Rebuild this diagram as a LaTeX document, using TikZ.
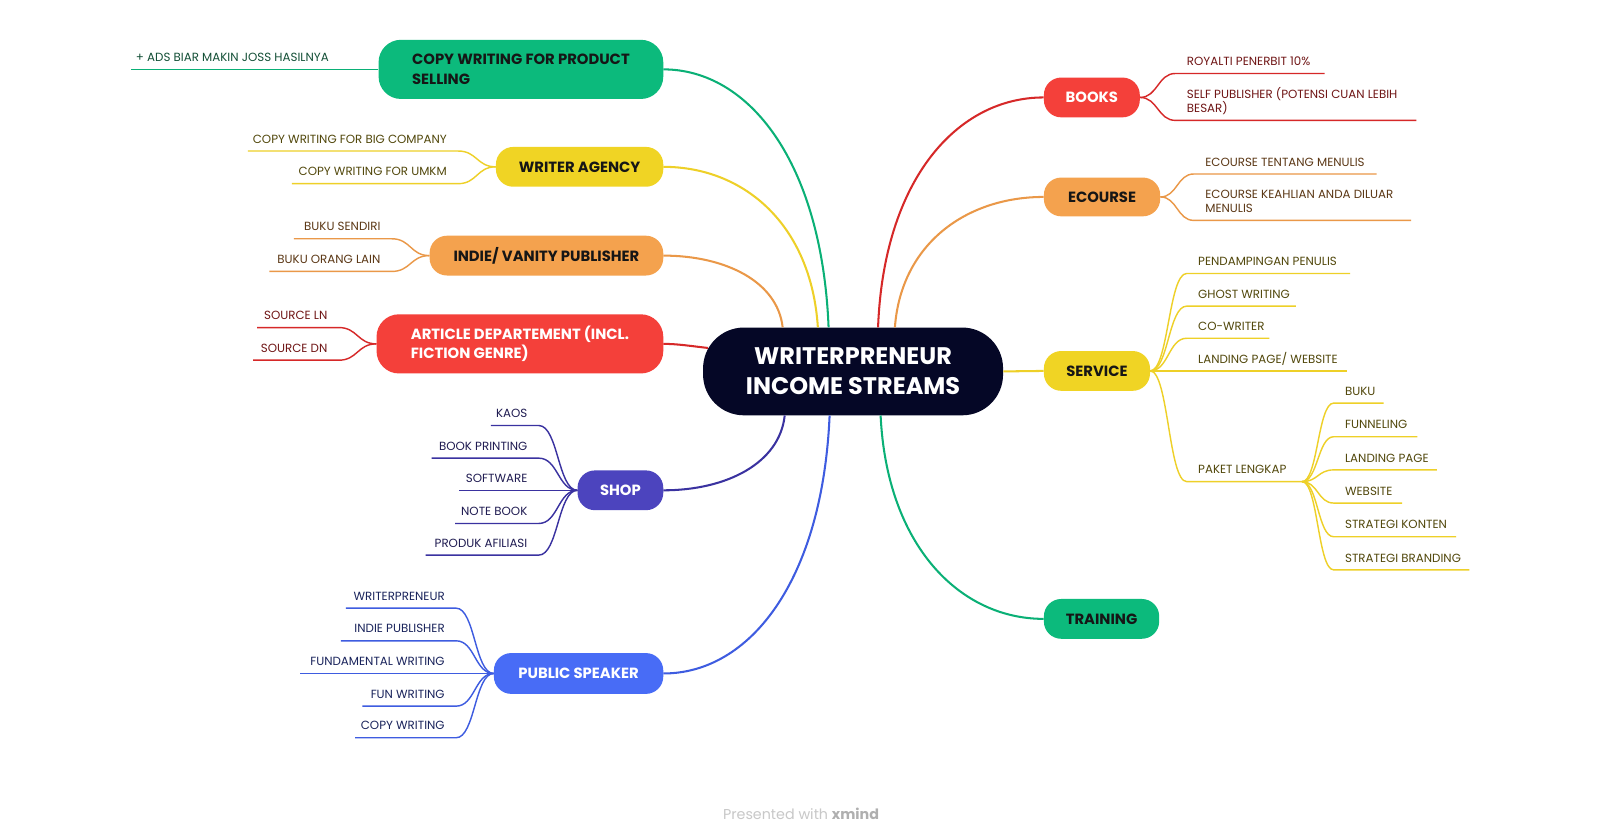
\documentclass[tikz,border=0pt]{standalone}
\usepackage{fontspec}
\setmainfont{Poppins}
\usetikzlibrary{calc}
\definecolor{cgreen}{RGB}{12,186,124}
\definecolor{cyellow}{RGB}{240,212,36}
\definecolor{corange}{RGB}{244,162,78}
\definecolor{cred}{RGB}{244,64,58}
\definecolor{cpurple}{RGB}{76,68,190}
\definecolor{cblue}{RGB}{72,108,246}
\definecolor{cnavy}{RGB}{5,7,38}
\definecolor{lgreen}{RGB}{10,176,118}
\definecolor{lyellow}{RGB}{238,208,40}
\definecolor{lorange}{RGB}{234,152,72}
\definecolor{lred}{RGB}{214,40,40}
\definecolor{lpurple}{RGB}{58,50,160}
\definecolor{lblue}{RGB}{62,92,224}
\definecolor{tgreen}{RGB}{20,80,55}
\definecolor{tyellow}{RGB}{82,72,12}
\definecolor{torange}{RGB}{92,56,22}
\definecolor{tred}{RGB}{112,22,22}
\definecolor{tpurple}{RGB}{32,28,82}
\definecolor{tblue}{RGB}{26,36,92}
\definecolor{tdark}{RGB}{22,22,22}
\definecolor{footgray}{RGB}{200,200,200}
\definecolor{footdark}{RGB}{175,175,175}
\tikzset{
  topic/.style={rounded corners=17pt, minimum height=39pt, inner sep=0pt, align=left,
    font=\bfseries\fontsize{14.5}{19}\selectfont},
  leaf/.style={inner sep=0pt, text depth=0pt, align=left, font=\fontsize{11.6}{14}\selectfont},
  mainbr/.style={line width=2pt},
  sb/.style={line width=1.4pt}
}
\newcommand\leafL[8]{%
  \coordinate (#1j) at (#5,#6);
  \coordinate (#1e) at (#7,#6);
  \coordinate (#1m) at ($(#4)!0.5!(#1j)$);
  \draw[sb,draw=#2] (#4) .. controls (#1m |- #4) and (#1m |- #1j) .. (#1j) -- (#1e);
  \node[leaf,text=#3,anchor=south east] (#1) at ($(#1j)+(-11,-7.5)$) {#8};
}
\newcommand\leafR[8]{%
  \coordinate (#1j) at (#5,#6);
  \coordinate (#1e) at (#7,#6);
  \coordinate (#1m) at ($(#4)!0.5!(#1j)$);
  \draw[sb,draw=#2] (#4) .. controls (#1m |- #4) and (#1m |- #1j) .. (#1j) -- (#1e);
  \node[leaf,text=#3,anchor=south west] (#1) at ($(#1j)+(11,-7.5)$) {#8};
}
\begin{document}
\begin{tikzpicture}[x=1pt,y=-1pt]
\fill[white] (0,0) rectangle (1568,818.3);
\useasboundingbox (0,0) rectangle (1568,818.3);

% central node
\node[fill=cnavy, rounded corners=40pt, minimum width=294pt, minimum height=86pt, inner sep=0pt,
  text=white, align=center, font=\bfseries\fontsize{23.5}{29}\selectfont] (c) at (836,364)
  {WRITERPRENEUR\\INCOME STREAMS};

% main topics left
\node[topic, fill=cgreen, minimum width=279pt, minimum height=58pt, rounded corners=22pt, text=tdark] (cw) at (510.5,68) {COPY WRITING FOR PRODUCT\\SELLING};
\node[topic, fill=cyellow, minimum width=164pt, text=tdark] (wa) at (568,163.5) {WRITER AGENCY};
\node[topic, fill=corange, minimum width=229pt, text=tdark] (ip) at (535.5,250.5) {INDIE/ VANITY PUBLISHER};
\node[topic, fill=cred, minimum width=281pt, minimum height=58pt, rounded corners=22pt, text=white] (ad) at (509.5,337) {ARTICLE DEPARTEMENT (INCL.\\FICTION GENRE)};
\node[topic, fill=cpurple, minimum width=84pt, text=white] (sh) at (608,480.5) {SHOP};
\node[topic, fill=cblue, minimum width=166pt, minimum height=40pt, text=white] (ps) at (567,660) {PUBLIC SPEAKER};

% main topics right
\node[topic, fill=cred, minimum width=94pt, text=white] (bk) at (1070,95.5) {BOOKS};
\node[topic, fill=corange, minimum width=114pt, minimum height=38pt, text=tdark] (ec) at (1080,193) {ECOURSE};
\node[topic, fill=cyellow, minimum width=104pt, text=tdark] (sv) at (1075,363.5) {SERVICE};
\node[topic, fill=cgreen, minimum width=113pt, text=tdark] (tr) at (1079.5,606.5) {TRAINING};

% main branches
\draw[mainbr, lgreen] ($(c.north)+(-24,0)$) .. controls (805.5,159) and (734,68) .. (cw.east);
\draw[mainbr, lyellow] ($(c.north)+(-34.5,0)$) .. controls (795,220) and (729,163.5) .. (wa.east);
\draw[mainbr, lorange] ($(c.north)+(-69,0)$) .. controls (762,276) and (711,250.5) .. (ip.east);
\draw[mainbr, lred] ($(c.west)+(5,-23)$) .. controls (676,339) and (664,337) .. (ad.east);
\draw[mainbr, lpurple] ($(c.south)+(-67,0)$) .. controls (764,454) and (712,480.5) .. (sh.east);
\draw[mainbr, lblue] ($(c.south)+(-23,0)$) .. controls (806,569) and (735,660) .. (ps.east);
\draw[mainbr, lred] ($(c.north)+(24.5,0)$) .. controls (866,176) and (938,95.5) .. (bk.west);
\draw[mainbr, lorange] ($(c.north)+(41,0)$) .. controls (883,239) and (947,193) .. (ec.west);
\draw[mainbr, lyellow] (c.east) -- (sv.west);
\draw[mainbr, lgreen] ($(c.south)+(27,0)$) .. controls (869,534) and (940,606.5) .. (tr.west);

% copy writing leaf
\coordinate (cw1e) at (128,68);
\draw[sb, lgreen] (cw.west) -- (cw1e);
\node[leaf, text=tgreen, anchor=south west] (cw1) at (133,60.5) {+ ADS BIAR MAKIN JOSS HASILNYA};

% writer agency
\leafL{wa1}{lyellow}{tyellow}{wa.west}{449}{148}{243}{COPY WRITING FOR BIG COMPANY}
\leafL{wa2}{lyellow}{tyellow}{wa.west}{449}{180}{286}{COPY WRITING FOR UMKM}

% indie publisher
\leafL{ip1}{lorange}{torange}{ip.west}{384}{234}{288}{BUKU SENDIRI}
\leafL{ip2}{lorange}{torange}{ip.west}{384}{266}{264}{BUKU ORANG LAIN}

% article
\leafL{ad1}{lred}{tred}{ad.west}{332}{321}{252}{SOURCE LN}
\leafL{ad2}{lred}{tred}{ad.west}{332}{353}{248}{SOURCE DN}

% shop
\leafL{sh1}{lpurple}{tpurple}{sh.west}{528}{417}{481}{KAOS}
\leafL{sh2}{lpurple}{tpurple}{sh.west}{528}{449}{423}{BOOK PRINTING}
\leafL{sh3}{lpurple}{tpurple}{sh.west}{528}{480.5}{450}{SOFTWARE}
\leafL{sh4}{lpurple}{tpurple}{sh.west}{528}{513}{446}{NOTE BOOK}
\leafL{sh5}{lpurple}{tpurple}{sh.west}{528}{544}{417}{PRODUK AFILIASI}

% public speaker
\leafL{ps1}{lblue}{tblue}{ps.west}{447}{596}{339}{WRITERPRENEUR}
\leafL{ps2}{lblue}{tblue}{ps.west}{447}{628}{334}{INDIE PUBLISHER}
\leafL{ps3}{lblue}{tblue}{ps.west}{447}{660}{294}{FUNDAMENTAL WRITING}
\leafL{ps4}{lblue}{tblue}{ps.west}{447}{692}{355}{FUN WRITING}
\leafL{ps5}{lblue}{tblue}{ps.west}{447}{723}{348}{COPY WRITING}

% books
\leafR{bk1}{lred}{tred}{bk.east}{1152}{72}{1298}{ROYALTI PENERBIT 10\%}
\leafR{bk2}{lred}{tred}{bk.east}{1152}{118}{1388}{SELF PUBLISHER (POTENSI CUAN LEBIH\\BESAR)}

% ecourse
\leafR{ec1}{lorange}{torange}{ec.east}{1170}{170.5}{1349}{ECOURSE TENTANG MENULIS}
\leafR{ec2}{lorange}{torange}{ec.east}{1170}{216}{1383}{ECOURSE KEAHLIAN ANDA DILUAR\\MENULIS}

% service
\leafR{sv1}{lyellow}{tyellow}{sv.east}{1163}{268}{1323}{PENDAMPINGAN PENULIS}
\leafR{sv2}{lyellow}{tyellow}{sv.east}{1163}{300}{1270}{GHOST WRITING}
\leafR{sv3}{lyellow}{tyellow}{sv.east}{1163}{331.5}{1244}{CO-WRITER}
\leafR{sv4}{lyellow}{tyellow}{sv.east}{1163}{363.5}{1320}{LANDING PAGE/ WEBSITE}
\leafR{sv5}{lyellow}{tyellow}{sv.east}{1163}{472}{1276}{PAKET LENGKAP}

% paket lengkap
\leafR{pk1}{lyellow}{tyellow}{sv5e}{1307}{395}{1356}{BUKU}
\leafR{pk2}{lyellow}{tyellow}{sv5e}{1307}{428}{1389}{FUNNELING}
\leafR{pk3}{lyellow}{tyellow}{sv5e}{1307}{460.5}{1408}{LANDING PAGE}
\leafR{pk4}{lyellow}{tyellow}{sv5e}{1307}{493}{1374}{WEBSITE}
\leafR{pk5}{lyellow}{tyellow}{sv5e}{1307}{526}{1427}{STRATEGI KONTEN}
\leafR{pk6}{lyellow}{tyellow}{sv5e}{1307}{558.5}{1440}{STRATEGI BRANDING}

% footer
\node[inner sep=0pt, text=footgray, font=\fontsize{14}{17}\selectfont] (foot) at (785,798)
  {Presented with \textcolor{footdark}{\bfseries xmind}};
\end{tikzpicture}
\end{document}
